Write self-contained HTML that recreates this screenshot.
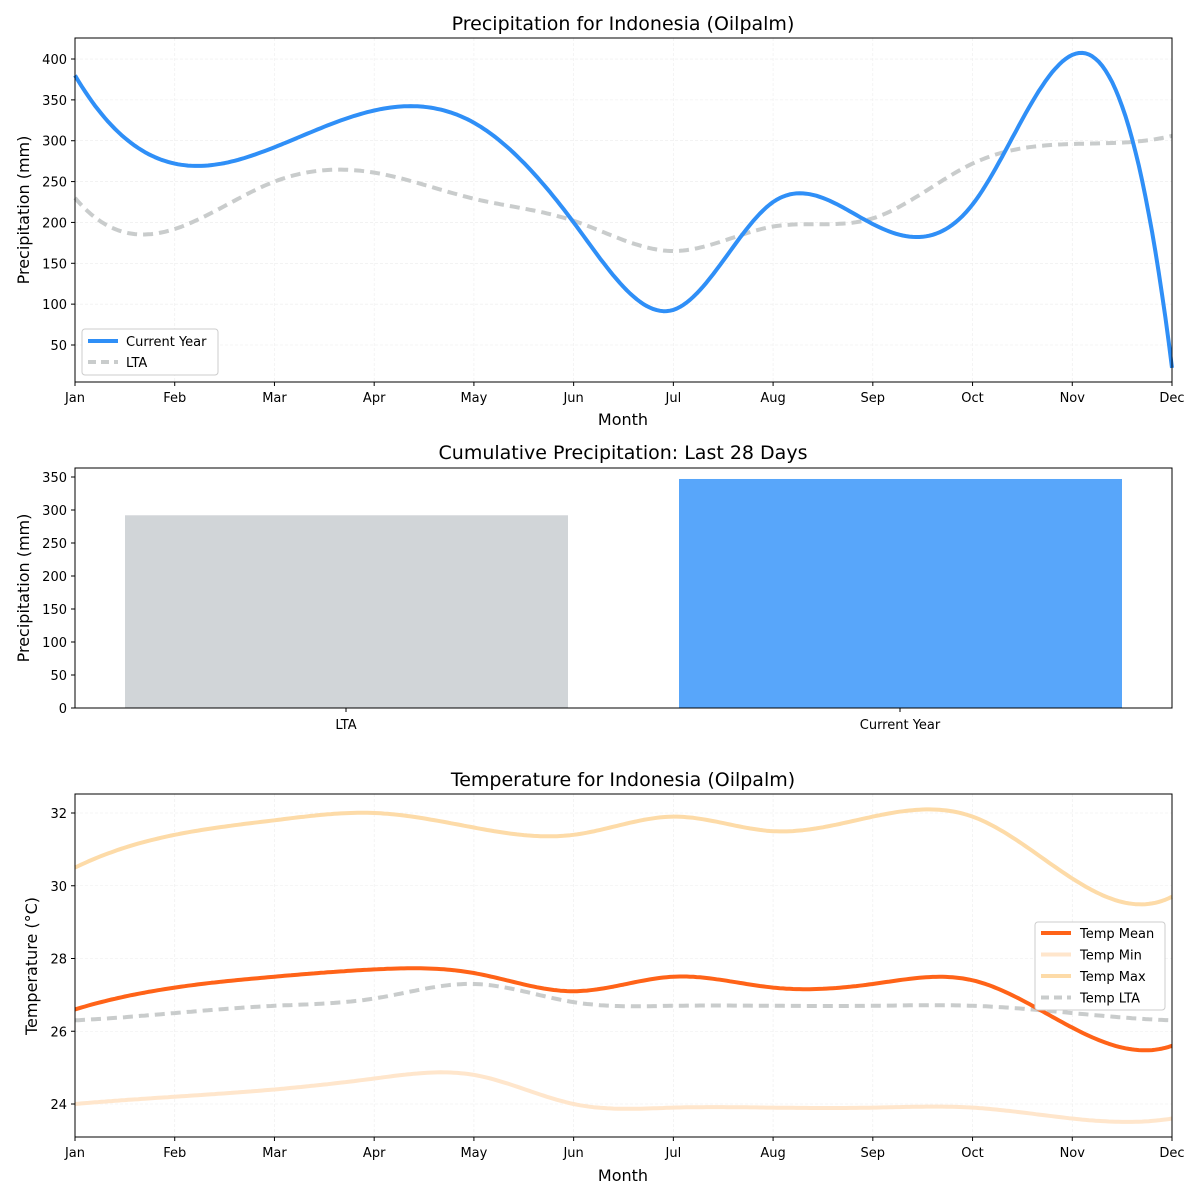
<!DOCTYPE html>
<html><head><meta charset="utf-8"><style>
body{margin:0;background:#fff}
svg{display:block;font-family:"DejaVu Sans","Liberation Sans",sans-serif}
</style></head><body>
<svg id="s" width="1200" height="1200" xmlns="http://www.w3.org/2000/svg">
<rect width="1200" height="1200" fill="#fff"/>
<g id="g"></g>
<text x="623" y="30" font-size="19" text-anchor="middle">Precipitation for Indonesia (Oilpalm)</text>
<text x="623" y="459" font-size="19" text-anchor="middle">Cumulative Precipitation: Last 28 Days</text>
<text x="623" y="786" font-size="19" text-anchor="middle">Temperature for Indonesia (Oilpalm)</text>
<text x="623" y="425" font-size="16" text-anchor="middle">Month</text>
<text x="623" y="1181" font-size="16" text-anchor="middle">Month</text>
<text transform="translate(29,210) rotate(-90)" font-size="16" text-anchor="middle">Precipitation (mm)</text>
<text transform="translate(29,588) rotate(-90)" font-size="16" text-anchor="middle">Precipitation (mm)</text>
<text transform="translate(37,966) rotate(-90)" font-size="16" text-anchor="middle">Temperature (°C)</text>
</svg>
<script>
var g=document.getElementById('g'),NS='http://www.w3.org/2000/svg';
function el(t,a,txt){var e=document.createElementNS(NS,t);for(var k in a)e.setAttribute(k,a[k]);if(txt!=null)e.textContent=txt;g.appendChild(e);return e;}
var M=['Jan','Feb','Mar','Apr','May','Jun','Jul','Aug','Sep','Oct','Nov','Dec'];
var X0=75,X1=1172,dx=(X1-X0)/11;
function solve(A,b){var n=b.length;for(var i=0;i<n;i++){var p=i;for(var r=i+1;r<n;r++)if(Math.abs(A[r][i])>Math.abs(A[p][i]))p=r;
 var t=A[i];A[i]=A[p];A[p]=t;var tb=b[i];b[i]=b[p];b[p]=tb;
 for(var r=i+1;r<n;r++){var f=A[r][i]/A[i][i];for(var c=i;c<n;c++)A[r][c]-=f*A[i][c];b[r]-=f*b[i];}}
 var x=new Array(n);for(var i=n-1;i>=0;i--){var s=b[i];for(var c=i+1;c<n;c++)s-=A[i][c]*x[c];x[i]=s/A[i][i];}return x;}
function spline(y){var n=y.length,A=[],b=[];
 for(var i=0;i<n;i++){A.push(new Array(n).fill(0));b.push(0);}
 A[0][0]=1;A[0][1]=-2;A[0][2]=1;
 A[n-1][n-3]=1;A[n-1][n-2]=-2;A[n-1][n-1]=1;
 for(var i=1;i<n-1;i++){A[i][i-1]=1;A[i][i]=4;A[i][i+1]=1;b[i]=6*(y[i+1]-2*y[i]+y[i-1]);}
 var m=solve(A,b);
 var pts=[];
 for(var i=0;i<n-1;i++)for(var k=0;k<=(i==n-2?30:29);k++){var t=k/30;
  var v=(1-t)*y[i]+t*y[i+1]+((Math.pow(1-t,3)-(1-t))*m[i]+(Math.pow(t,3)-t)*m[i+1])/6;pts.push([i+t,v]);}
 return pts;}
function line(data,fy,color,w,dash){var p=spline(data).map(function(q){return (X0+q[0]*dx).toFixed(1)+','+fy(q[1]).toFixed(1)}).join(' ');
 var a={points:p,fill:'none',stroke:color,'stroke-width':w,'stroke-linejoin':'round'};if(dash)a['stroke-dasharray']=dash;el('polyline',a);}
function axes(top,bot,yt,fy,lab,xt){
 for(var i=0;i<yt.length;i++){var y=fy(yt[i]);
  if(xt)el('line',{x1:X0,x2:X1,y1:y,y2:y,stroke:'#ececec','stroke-width':0.6,'stroke-dasharray':'3,2'});
  el('line',{x1:X0-4,x2:X0,y1:y,y2:y,stroke:'#000'});
  el('text',{x:X0-8,y:y+5,'font-size':13,'text-anchor':'end'},lab?lab(yt[i]):yt[i]);}
 if(xt){for(var i=0;i<12;i++){var x=X0+i*dx;
  el('line',{x1:x,x2:x,y1:top,y2:bot,stroke:'#ececec','stroke-width':0.6,'stroke-dasharray':'3,2'});
  el('line',{x1:x,x2:x,y1:bot,y2:bot+4,stroke:'#000'});
  el('text',{x:x,y:bot+20,'font-size':13,'text-anchor':'middle'},M[i]);}}
}
var f1=function(v){return 345-(v-50)*0.8171;};
axes(38,382,[50,100,150,200,250,300,350,400],f1,null,true);
line([230,192,250,261,229,202,165,195,205,272,296,306],f1,'#c9cccc',4,'10,6');
line([380,272,292,337,322,200,93,225,198,222,405,22],f1,'#2f8ff7',4);
el('rect',{x:X0,y:38,width:X1-X0,height:344,fill:'none',stroke:'#000','stroke-width':1});
el('rect',{x:82,y:329,width:136,height:46,fill:'#fff',stroke:'#ccc',rx:3});
el('line',{x1:88,x2:118,y1:341,y2:341,stroke:'#2f8ff7','stroke-width':4});
el('text',{x:126,y:346,'font-size':13},'Current Year');
el('line',{x1:88,x2:118,y1:362,y2:362,stroke:'#c9cccc','stroke-width':4,'stroke-dasharray':'8,5'});
el('text',{x:126,y:367,'font-size':13},'LTA');
var f2=function(v){return 708-v*0.66;};
axes(468,708,[0,50,100,150,200,250,300,350],f2,null,false);
el('rect',{x:125,y:f2(292),width:443,height:708-f2(292),fill:'#d1d5d8'});
el('rect',{x:679,y:f2(347),width:443,height:708-f2(347),fill:'#58a6fa'});
el('rect',{x:X0,y:468,width:X1-X0,height:240,fill:'none',stroke:'#000'});
[[346,'LTA'],[900,'Current Year']].forEach(function(q){el('line',{x1:q[0],x2:q[0],y1:708,y2:712,stroke:'#000'});el('text',{x:q[0],y:729,'font-size':13,'text-anchor':'middle'},q[1]);});
var f3=function(v){return 813+(32-v)*36.375;};
axes(794,1137,[24,26,28,30,32],f3,null,true);
line([24.0,24.2,24.4,24.7,24.8,24.0,23.9,23.9,23.9,23.9,23.6,23.6],f3,'#ffe6cc',4);
line([30.5,31.4,31.8,32.0,31.6,31.4,31.9,31.5,31.9,31.9,30.2,29.7],f3,'#fddba8',4);
line([26.3,26.5,26.7,26.9,27.3,26.8,26.7,26.7,26.7,26.7,26.5,26.3],f3,'#c9cccc',4,'10,6');
line([26.6,27.2,27.5,27.7,27.6,27.1,27.5,27.2,27.3,27.4,26.1,25.6],f3,'#ff6318',4);
el('rect',{x:X0,y:794,width:X1-X0,height:343,fill:'none',stroke:'#000'});
el('rect',{x:1035,y:922,width:130,height:88,fill:'#fff',stroke:'#ccc',rx:3});
[['#ff6318','Temp Mean'],['#ffe6cc','Temp Min'],['#fddba8','Temp Max'],['#c9cccc','Temp LTA']].forEach(function(q,i){var y=933+i*21.5;
 var a={x1:1041,x2:1071,y1:y,y2:y,stroke:q[0],'stroke-width':4};if(i==3)a['stroke-dasharray']='8,5';el('line',a);
 el('text',{x:1080,y:y+5,'font-size':13},q[1]);});
</script>
</body></html>
